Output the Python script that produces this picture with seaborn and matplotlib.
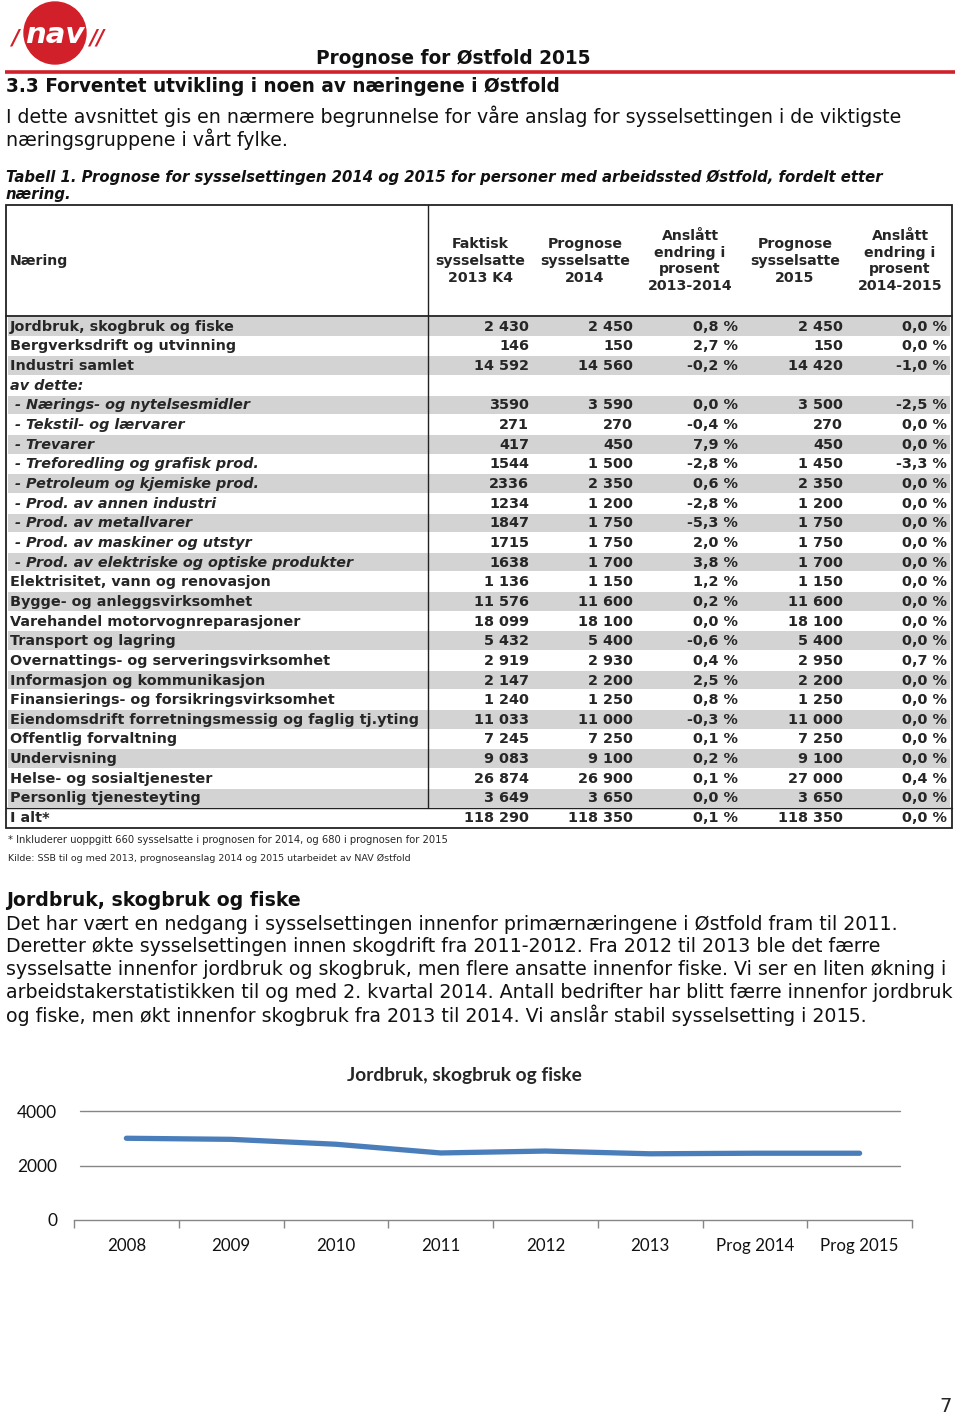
import matplotlib
matplotlib.use("Agg")
import matplotlib.pyplot as plt
import seaborn as sns
from matplotlib.patches import Circle, Rectangle
from matplotlib.ticker import FixedLocator

# --- table data (Tabell 1) ---
naering = [
    "Jordbruk, skogbruk og fiske", "Bergverksdrift og utvinning", "Industri samlet", "av dette:",
    " - Nærings- og nytelsesmidler", " - Tekstil- og lærvarer", " - Trevarer",
    " - Treforedling og grafisk prod.", " - Petroleum og kjemiske prod.", " - Prod. av annen industri",
    " - Prod. av metallvarer", " - Prod. av maskiner og utstyr", " - Prod. av elektriske og optiske produkter",
    "Elektrisitet, vann og renovasjon", "Bygge- og anleggsvirksomhet", "Varehandel motorvognreparasjoner",
    "Transport og lagring", "Overnattings- og serveringsvirksomhet", "Informasjon og kommunikasjon",
    "Finansierings- og forsikringsvirksomhet", "Eiendomsdrift forretningsmessig og faglig tj.yting",
    "Offentlig forvaltning", "Undervisning", "Helse- og sosialtjenester", "Personlig tjenesteyting", "I alt*",
]
faktisk_2013 = [2430, 146, 14592, None, 3590, 271, 417, 1544, 2336, 1234, 1847, 1715, 1638,
                1136, 11576, 18099, 5432, 2919, 2147, 1240, 11033, 7245, 9083, 26874, 3649, 118290]
prognose_2014 = [2450, 150, 14560, None, 3590, 270, 450, 1500, 2350, 1200, 1750, 1750, 1700,
                 1150, 11600, 18100, 5400, 2930, 2200, 1250, 11000, 7250, 9100, 26900, 3650, 118350]
endring_13_14 = [0.8, 2.7, -0.2, None, 0.0, -0.4, 7.9, -2.8, 0.6, -2.8, -5.3, 2.0, 3.8,
                 1.2, 0.2, 0.0, -0.6, 0.4, 2.5, 0.8, -0.3, 0.1, 0.2, 0.1, 0.0, 0.1]
prognose_2015 = [2450, 150, 14420, None, 3500, 270, 450, 1450, 2350, 1200, 1750, 1750, 1700,
                 1150, 11600, 18100, 5400, 2950, 2200, 1250, 11000, 7250, 9100, 27000, 3650, 118350]
endring_14_15 = [0.0, 0.0, -1.0, None, -2.5, 0.0, 0.0, -3.3, 0.0, 0.0, 0.0, 0.0, 0.0,
                 0.0, 0.0, 0.0, 0.0, 0.7, 0.0, 0.0, 0.0, 0.0, 0.0, 0.4, 0.0, 0.0]
kolonner = ["Faktisk\nsysselsatte\n2013 K4", "Prognose\nsysselsatte\n2014",
            "Anslått\nendring i\nprosent\n2013-2014", "Prognose\nsysselsatte\n2015",
            "Anslått\nendring i\nprosent\n2014-2015"]

# --- line chart data ---
aar = ["2008", "2009", "2010", "2011", "2012", "2013", "Prog 2014", "Prog 2015"]
sysselsatte = [3000, 2960, 2780, 2460, 2530, 2430, 2450, 2450]

intro = ["I dette avsnittet gis en nærmere begrunnelse for våre anslag for sysselsettingen i de viktigste",
         "næringsgruppene i vårt fylke."]
tabell_tekst = ["Tabell 1. Prognose for sysselsettingen 2014 og 2015 for personer med arbeidssted Østfold, fordelt etter",
                "næring."]
avsnitt = ["Det har vært en nedgang i sysselsettingen innenfor primærnæringene i Østfold fram til 2011.",
           "Deretter økte sysselsettingen innen skogdrift fra 2011-2012. Fra 2012 til 2013 ble det færre",
           "sysselsatte innenfor jordbruk og skogbruk, men flere ansatte innenfor fiske. Vi ser en liten økning i",
           "arbeidstakerstatistikken til og med 2. kvartal 2014. Antall bedrifter har blitt færre innenfor jordbruk",
           "og fiske, men økt innenfor skogbruk fra 2013 til 2014. Vi anslår stabil sysselsetting i 2015."]

sns.set_theme(style="white")
plt.rcParams["font.family"] = ["DejaVu Sans"]

W, H = 960, 1417
fig = plt.figure(figsize=(W / 100, H / 100), dpi=100)
fig.patch.set_facecolor("white")
renderer = fig.canvas.get_renderer()

ax = fig.add_axes([0, 0, 1, 1])
ax.set_xlim(0, W)
ax.set_ylim(H, 0)
ax.axis("off")


def fit_size(s, width, **kw):
    t = ax.text(0, 0, s, fontsize=10, **kw)
    w = t.get_window_extent(renderer).width
    t.remove()
    return 10 * width / w


def fit(x, y, s, width, **kw):
    size = fit_size(s, width, **{k: v for k, v in kw.items() if k in ("family", "weight", "style")})
    return ax.text(x, y, s, fontsize=size, va="center", **kw)


RED = "#d2202a"

# logo
ax.add_patch(Circle((55, 33), 31, color=RED, zorder=2))
ax.text(55, 35, "nav", color="white", fontsize=21, weight="heavy", style="italic",
        ha="center", va="center", zorder=3)
ax.text(15, 39, "/", color=RED, fontsize=15, weight="bold", style="italic", ha="center", va="center")
ax.text(97, 38, "//", color=RED, fontsize=15, weight="bold", style="italic", ha="center", va="center")

# page header
fit(316, 58, "Prognose for Østfold 2015", 276, weight="bold", color="#111111")
ax.plot([5, 955], [72, 72], color=RED, lw=2.6, solid_capstyle="butt")
fit(6, 87, "3.3 Forventet utvikling i noen av næringene i Østfold", 556, weight="bold", color="#111111")

body_size = fit_size(avsnitt[3], 946)
for i, line in enumerate(intro):
    ax.text(6, 116 + 23 * i, line, fontsize=body_size, va="center", color="#111111")
tab_size = fit_size(tabell_tekst[0], 878, weight="bold", style="italic")
for i, line in enumerate(tabell_tekst):
    ax.text(6, 177 + 18 * i, line, fontsize=tab_size, weight="bold", style="italic", va="center", color="#111111")

# table
x0, x1, xsep = 6, 952, 428
top, head_bot = 205, 316
row_h = 19.65
n = len(naering)
tbl_bot = head_bot + 1 + n * row_h
right_edges = [529, 633, 738, 843, 947]
centers = [480, 585, 690, 795, 900]
GRAY = "#d3d3d3"

for i in range(n):
    y_top = head_bot + 1 + i * row_h
    if i % 2 == 0:
        ax.add_patch(Rectangle((x0 + 2, y_top), x1 - x0 - 4, row_h - 1, color=GRAY, lw=0, zorder=1))

cell_size = fit_size(naering[20], 407, weight="bold")
head_size = fit_size("sysselsatte", 90, weight="bold")


def tall(v, grupper=True):
    if v is None:
        return ""
    return f"{v:,}".replace(",", " ") if grupper else str(v)


def pst(v):
    if v is None:
        return ""
    return f"{v:.1f} %".replace(".", ",")


for i in range(n):
    yc = head_bot + 1 + i * row_h + row_h / 2
    italic = 3 <= i <= 12
    st = "italic" if italic else "normal"
    ax.text(10, yc, naering[i], fontsize=cell_size, weight="bold", style=st, va="center", zorder=3)
    vals = [tall(faktisk_2013[i], not italic), tall(prognose_2014[i]), pst(endring_13_14[i]),
            tall(prognose_2015[i]), pst(endring_14_15[i])]
    for xe, v in zip(right_edges, vals):
        ax.text(xe, yc, v, fontsize=cell_size, weight="bold", ha="right", va="center", zorder=3)

ax.text(10, 261, "Næring", fontsize=head_size, weight="bold", va="center")
for xc, lab in zip(centers, kolonner):
    ax.text(xc, 261, lab, fontsize=head_size, weight="bold", ha="center", va="center",
            linespacing=18 / (head_size * 100 / 72))

lc = "#222222"
ax.add_patch(Rectangle((x0, top), x1 - x0, tbl_bot - top, fill=False, ec=lc, lw=1.3, zorder=4))
ax.plot([x0, x1], [head_bot, head_bot], color=lc, lw=1.3, zorder=4)
ax.plot([xsep, xsep], [top, tbl_bot - row_h], color=lc, lw=1.0, zorder=4)
ax.plot([x0, x1], [tbl_bot - row_h, tbl_bot - row_h], color=lc, lw=1.0, zorder=4)

fit(8, 840, "* Inkluderer uoppgitt 660 sysselsatte i prognosen for 2014, og 680 i prognosen for 2015", 442)
fit(8, 858, "Kilde: SSB til og med 2013, prognoseanslag 2014 og 2015 utarbeidet av NAV Østfold", 403)

# section text
fit(6, 901, "Jordbruk, skogbruk og fiske", 294, weight="bold", color="#111111")
for i, line in enumerate(avsnitt):
    ax.text(6, 924 + 22.7 * i, line, fontsize=body_size, va="center", color="#111111")

# line chart
CH = "Lato"
ax.text(464, 1076, "Jordbruk, skogbruk og fiske", family=CH, weight="bold", ha="center", va="center",
        fontsize=fit_size("Jordbruk, skogbruk og fiske", 236, family=CH, weight="bold"))

cax = fig.add_axes([74 / W, 1 - 1220 / H, (912 - 74) / W, (1220 - 1111) / H])
sns.lineplot(x=aar, y=sysselsatte, ax=cax, color="#4a7ebb", linewidth=3.8, sort=False,
             solid_joinstyle="round", solid_capstyle="round", zorder=3)
cax.set_xlim(-0.5, len(aar) - 0.5)
cax.set_ylim(0, 4000)
cax.set_yticks([0, 2000, 4000])
cax.set_xlabel("")
cax.set_ylabel("")
for s in ["left", "right", "top"]:
    cax.spines[s].set_visible(False)
cax.spines["bottom"].set_color("#868686")
cax.spines["bottom"].set_linewidth(1.0)
for yv in [2000, 4000]:
    cax.axhline(yv, xmin=0.007, xmax=0.986, color="#868686", lw=1.0, clip_on=False, zorder=1)
cax.xaxis.set_minor_locator(FixedLocator([k - 0.5 for k in range(len(aar) + 1)]))
cax.tick_params(axis="x", which="minor", length=6, color="#868686", width=1.0, direction="out", bottom=True)
cax.tick_params(axis="x", which="major", length=0, pad=13, labelsize=12.2)
cax.tick_params(axis="y", length=0, pad=12, labelsize=12.5)
for lab in cax.get_xticklabels() + cax.get_yticklabels():
    lab.set_family(CH)
    lab.set_color("#111111")
cax.set_facecolor("none")

ax.text(946, 1406, "7", fontsize=14, ha="center", va="center")

fig.savefig("out.png", dpi=100)
